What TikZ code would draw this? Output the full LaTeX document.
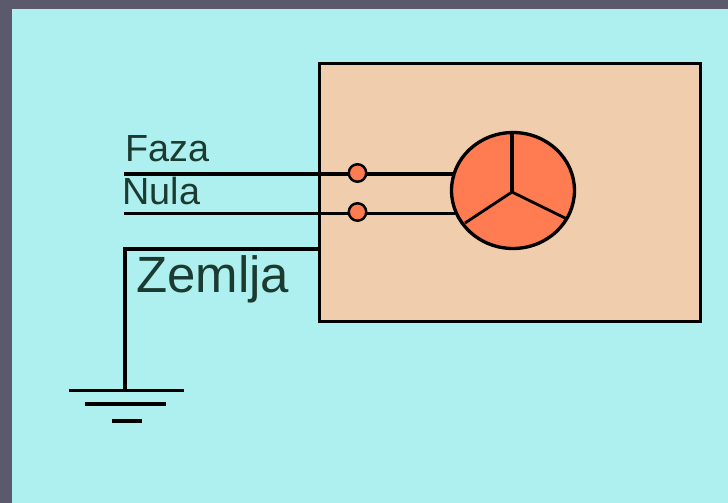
\documentclass[tikz,border=0pt]{standalone}
\usepackage{fontspec}
\setmainfont{Liberation Sans}
\usetikzlibrary{shapes.geometric}
\definecolor{okvir}{HTML}{5A5A6C}
\definecolor{pozadina}{HTML}{AEF0EF}
\definecolor{kutija}{HTML}{EFCDAD}
\definecolor{motor}{HTML}{FF7B51}
\definecolor{slova}{HTML}{1C3B30}
\tikzset{
  vod/.style={draw=black, line width=1.9pt},
  tanki/.style={draw=black, line width=1.3pt},
  stezaljka/.style={circle, draw=black, fill=motor, line width=1.4pt, inner sep=0pt, minimum size=0.35cm},
  natpis/.style={anchor=base west, inner sep=0pt, text=slova}
}

\begin{document}
\begin{tikzpicture}[x=0.02cm,y=-0.02cm]
    \useasboundingbox (0,0) rectangle (728,503);
    \fill[okvir] (0,0) rectangle (728,503);
    \fill[pozadina] (12,9) rectangle (728,503);

    \node[vod, fill=kutija, minimum width=7.62cm, minimum height=5.16cm, inner sep=0pt, outer sep=0pt] (kutija) at (509.8,192.5) {};

    % vodovi
    \coordinate (fazaL) at (124,174);
    \coordinate (nulaL) at (124,213.5);
    \coordinate (zemljaK) at (319,249);
    \coordinate (zemljaU) at (125,249);
    \coordinate (zemljaD) at (125,390);
    \coordinate (fazaM) at (455,174);
    \coordinate (nulaM) at (455,213.5);
    \draw[vod] (fazaL) -- (fazaM);
    \draw[vod] (nulaL) -- (nulaM);
    \draw[vod] (zemljaK) -- (zemljaU) -- (zemljaD);

    \node[stezaljka] (st1) at (357.5,173) {};
    \node[stezaljka] (st2) at (357.5,212) {};

    % motor
    \node[ellipse, vod, fill=motor, minimum width=2.46cm, minimum height=2.32cm, inner sep=0pt] (mot) at (513,190.5) {};
    \coordinate (hub) at (512,192);
    \coordinate (kraj1) at (512,132);
    \coordinate (kraj2) at (465,223);
    \coordinate (kraj3) at (567,219);
    \draw[vod] (hub) -- (kraj1);
    \draw[tanki, line width=1.6pt] (hub) -- (kraj2);
    \draw[tanki, line width=1.6pt] (hub) -- (kraj3);

    % uzemljenje
    \coordinate (g1L) at (69,390.5);
    \coordinate (g1D) at (184,390.5);
    \coordinate (g2L) at (85,404);
    \coordinate (g2D) at (166,404);
    \coordinate (g3L) at (112,421);
    \coordinate (g3D) at (142,421);
    \draw[tanki] (g1L) -- (g1D);
    \draw[vod] (g2L) -- (g2D);
    \draw[vod] (g3L) -- (g3D);

    \node[natpis, font=\fontsize{21.5}{21.5}\selectfont] (faza) at (125,162) {Faza};
    \node[natpis, font=\fontsize{21.5}{21.5}\selectfont] (nula) at (122,205) {Nula};
    \node[natpis, font=\fontsize{29}{29}\selectfont] (zemlja) at (136,293) {Zemlja};
\end{tikzpicture}
\end{document}
